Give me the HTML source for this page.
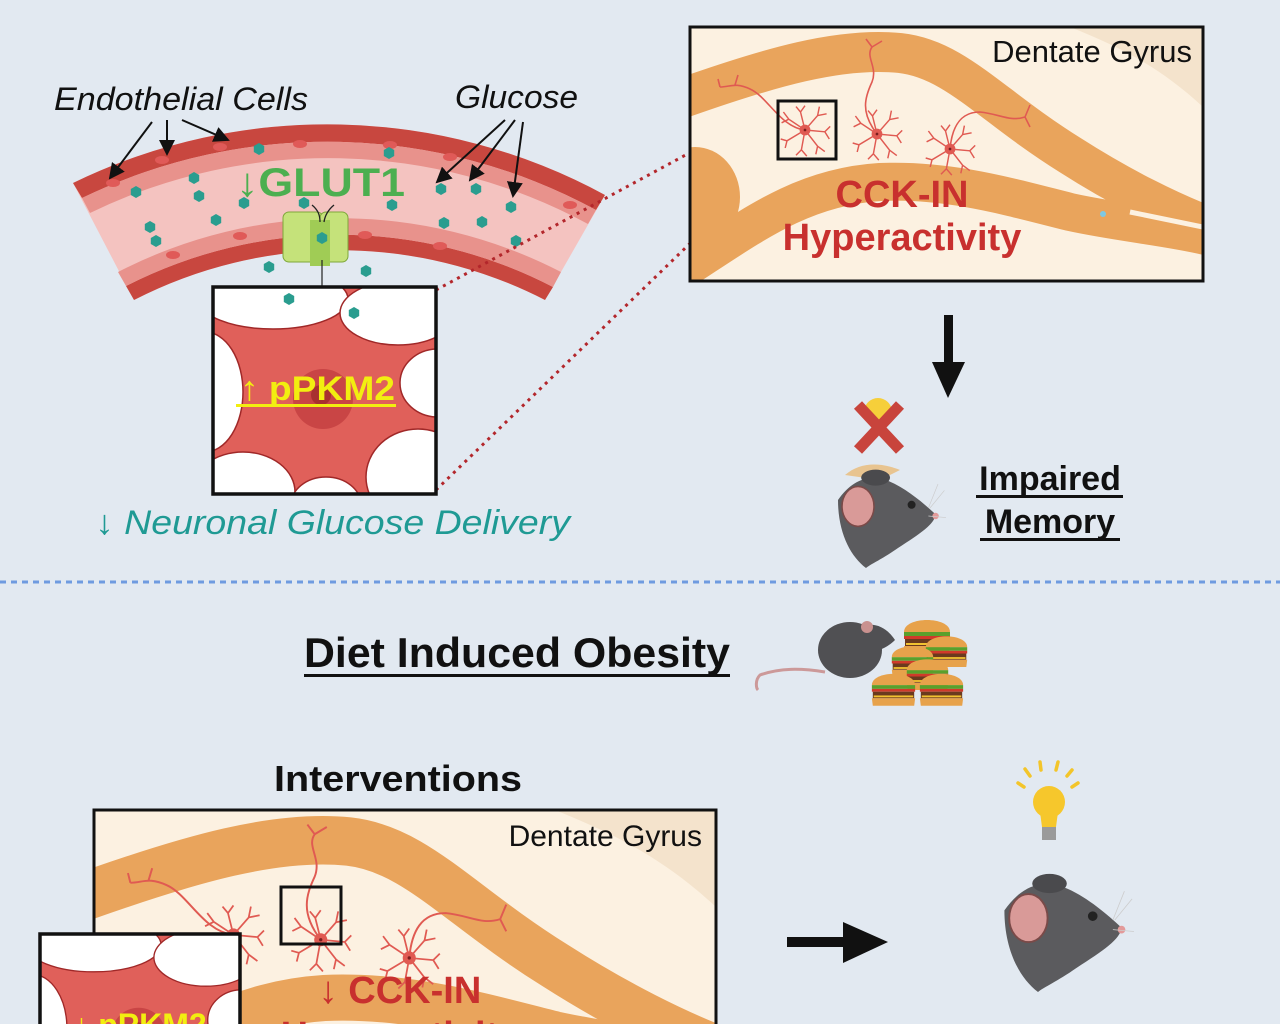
<!DOCTYPE html>
<html><head><meta charset="utf-8"><style>
html,body{margin:0;padding:0;background:#e2e9f1;width:1280px;height:1024px;overflow:hidden;}
svg{display:block}
text{font-family:"Liberation Sans",sans-serif}
</style></head><body>
<svg width="1280" height="1024" viewBox="0 0 1280 1024" xmlns="http://www.w3.org/2000/svg">
<defs>
<marker id="ah" markerWidth="8" markerHeight="8" refX="7" refY="4" orient="auto"><path d="M0,0 L8,4 L0,8 Z" fill="#111"/></marker>
<symbol id="hex" viewBox="-6 -6 12 12"><polygon points="0,-6 5.2,-3 5.2,3 0,6 -5.2,3 -5.2,-3" fill="#2a9d8f"/></symbol>
<symbol id="nr" viewBox="-30 -30 60 60" overflow="visible">
 <g stroke="#e05a52" stroke-width="1.6" fill="none">
 <path d="M0,0 L-18,-12 L-24,-20 M-18,-12 L-26,-8"/>
 <path d="M0,0 L-5,-20 L-10,-26 M-5,-20 L0,-27"/>
 <path d="M0,0 L14,-16 L16,-26 M14,-16 L24,-18"/>
 <path d="M0,0 L22,2 L28,-4 M22,2 L27,10"/>
 <path d="M0,0 L14,18 L12,27 M14,18 L22,24"/>
 <path d="M0,0 L-4,22 L-10,28 M-4,22 L2,29"/>
 <path d="M0,0 L-20,12 L-27,10 M-20,12 L-22,20"/>
 </g><circle r="6" fill="#e05a52"/><circle r="1.5" fill="#7a1e1e"/>
</symbol>
<symbol id="head" viewBox="0 0 130 125" overflow="visible">
 <path d="M5,40 C20,18 40,8 62,14 C86,22 110,42 127,58 C126,70 108,82 80,100 C60,114 46,120 40,125 C20,110 5,80 5,40Z" fill="#5b5b5e"/>
 <ellipse cx="52" cy="12" rx="18" ry="10" fill="#4a4a4d"/>
 <ellipse cx="30" cy="48" rx="20" ry="25" fill="#d99a98" stroke="#7a4a48" stroke-width="2"/>
 <circle cx="97" cy="46" r="5" fill="#222"/>
 <circle cx="127" cy="60" r="4" fill="#e39a9a"/>
 <g stroke="#ccc" stroke-width="0.8"><path d="M118,50 L130,20 M120,50 L138,28 M118,60 L140,62"/></g>
</symbol>
<symbol id="burger" viewBox="0 0 50 44">
 <path d="M2,20 C2,4 48,4 48,20 Z" fill="#e7a24b"/>
 <rect x="2" y="20" width="46" height="4" fill="#5aa02c"/>
 <rect x="2" y="24" width="46" height="3" fill="#d03a2a"/>
 <rect x="3" y="27" width="44" height="7" fill="#6b3a1e"/>
 <rect x="4" y="31" width="42" height="2" fill="#f2c230"/>
 <path d="M2,34 L48,34 L47,42 L3,42 Z" fill="#e7a24b"/>
</symbol>
<symbol id="dg" viewBox="0 0 513 254">
 <rect width="513" height="254" fill="#fcf1e1"/>
 <path d="M380,0 L513,0 L513,80 C470,40 430,20 380,0Z" fill="#f4e3cc"/>
 <path d="M-10,72 C80,40 150,20 210,26 C265,32 300,78 380,128 C430,160 480,185 520,200" stroke="#e9a45c" stroke-width="40" fill="none"/>
 <path d="M-10,245 C60,200 110,160 190,155 C260,152 320,170 380,185 C430,196 480,200 520,210" stroke="#e9a45c" stroke-width="38" fill="none"/>
 <ellipse cx="5" cy="170" rx="45" ry="50" fill="#e9a45c"/>
 <path d="M440,185 L513,200" stroke="#fcf1e1" stroke-width="5"/>
 <g stroke="#e05a52" stroke-width="1.6" fill="none">
  <path d="M115,103 C90,100 78,70 60,62 C45,55 40,60 30,60 M45,58 L48,48 M30,60 L28,52"/>
  <path d="M187,107 C170,85 175,70 182,55 C188,40 175,30 182,20 M182,20 L176,12 M182,20 L192,14"/>
  <path d="M260,122 C262,100 270,85 290,85 C310,87 320,95 335,90 M335,90 L340,78 M335,90 L340,100"/>
 </g>
 <use href="#nr" x="88" y="76" width="54" height="54"/>
 <use href="#nr" x="160" y="80" width="54" height="54"/>
 <use href="#nr" x="233" y="95" width="54" height="54"/>
 <circle cx="413" cy="187" r="3" fill="#7ec8e3"/>
</symbol>
<clipPath id="nb"><rect width="223" height="207"/></clipPath>
<symbol id="cell" viewBox="0 0 223 207">
 <g clip-path="url(#nb)">
 <rect width="223" height="207" fill="#e0605a"/>
 <g fill="#fff" stroke="#a02828" stroke-width="1.5">
 <ellipse cx="60" cy="12" rx="75" ry="30"/>
 <ellipse cx="185" cy="26" rx="58" ry="32"/>
 <ellipse cx="225" cy="96" rx="38" ry="34"/>
 <ellipse cx="-8" cy="105" rx="38" ry="60"/>
 <ellipse cx="30" cy="205" rx="52" ry="40"/>
 <ellipse cx="205" cy="190" rx="52" ry="48"/>
 <ellipse cx="113" cy="218" rx="35" ry="28"/>
 </g>
 <circle cx="110" cy="112" r="30" fill="#c94545"/>
 <circle cx="108" cy="108" r="10" fill="#a83030"/>
 </g>
</symbol>
</defs>

<!-- Vessel -->
<path d="M73,183 A581,581 0 0 1 605,195 L545,300 A449,449 0 0 0 134,300 Z" fill="#f4c3c0"/>
<path d="M73,183 A581,581 0 0 1 605,195 L596,210 A563,563 0 0 0 82,198 Z" fill="#c8473f"/>
<path d="M82,198 A563,563 0 0 1 596,210 L588,224 A545,545 0 0 0 90,213 Z" fill="#e8928c"/>
<path d="M134,300 A449,449 0 0 1 545,300 L553,287 A466,466 0 0 0 126,286 Z" fill="#c8473f"/>
<path d="M126,286 A466,466 0 0 1 553,287 L561,272 A483,483 0 0 0 118,272 Z" fill="#e8928c"/>
<g fill="#e05a58">
<ellipse cx="113" cy="183" rx="7" ry="4"/><ellipse cx="162" cy="160" rx="7" ry="4"/><ellipse cx="220" cy="147" rx="7" ry="4"/>
<ellipse cx="300" cy="144" rx="7" ry="4"/><ellipse cx="390" cy="145" rx="7" ry="4"/><ellipse cx="450" cy="157" rx="7" ry="4"/><ellipse cx="570" cy="205" rx="7" ry="4"/>
<ellipse cx="173" cy="255" rx="7" ry="4"/><ellipse cx="240" cy="236" rx="7" ry="4"/><ellipse cx="365" cy="235" rx="7" ry="4"/><ellipse cx="440" cy="246" rx="7" ry="4"/>
</g>
<!-- glucose -->
<g>
<use href="#hex" x="130" y="186" width="12" height="12"/><use href="#hex" x="188" y="172" width="12" height="12"/><use href="#hex" x="144" y="221" width="12" height="12"/>
<use href="#hex" x="210" y="214" width="12" height="12"/><use href="#hex" x="193" y="190" width="12" height="12"/><use href="#hex" x="150" y="235" width="12" height="12"/>
<use href="#hex" x="253" y="143" width="12" height="12"/><use href="#hex" x="383" y="147" width="12" height="12"/><use href="#hex" x="238" y="197" width="12" height="12"/>
<use href="#hex" x="298" y="197" width="12" height="12"/><use href="#hex" x="386" y="199" width="12" height="12"/>
<use href="#hex" x="435" y="183" width="12" height="12"/><use href="#hex" x="470" y="183" width="12" height="12"/><use href="#hex" x="476" y="216" width="12" height="12"/>
<use href="#hex" x="438" y="217" width="12" height="12"/><use href="#hex" x="505" y="201" width="12" height="12"/><use href="#hex" x="510" y="235" width="12" height="12"/>
<use href="#hex" x="263" y="261" width="12" height="12"/><use href="#hex" x="360" y="265" width="12" height="12"/>
</g>
<!-- GLUT1 channel -->
<rect x="283" y="212" width="40" height="50" rx="6" fill="#c5e27a" stroke="#7ea83a"/>
<rect x="320" y="212" width="28" height="50" rx="6" fill="#c5e27a" stroke="#7ea83a"/>
<rect x="310" y="220" width="20" height="46" fill="#a0cc55"/>
<use href="#hex" x="316" y="232" width="12" height="12"/>
<path d="M322,260 L322,318" stroke="#222" stroke-width="1.2" marker-end="url(#ah)"/>
<path d="M312,205 C318,210 320,215 320,222 M334,205 C328,210 325,215 324,222" stroke="#222" stroke-width="1.3" fill="none"/>
<text x="236" y="196" font-size="40" font-weight="bold" fill="#4caf50" textLength="169" lengthAdjust="spacingAndGlyphs">↓GLUT1</text>

<!-- labels -->
<text x="54" y="110" font-size="32" font-style="italic" fill="#111" textLength="254" lengthAdjust="spacingAndGlyphs">Endothelial Cells</text>
<text x="455" y="108" font-size="32" font-style="italic" fill="#111" textLength="123" lengthAdjust="spacingAndGlyphs">Glucose</text>
<g stroke="#111" stroke-width="2" fill="none" marker-end="url(#ah)">
<path d="M152,122 L110,178"/><path d="M167,120 L167,154"/><path d="M182,120 L228,140"/>
<path d="M505,120 L437,182"/><path d="M515,120 L470,180"/><path d="M523,122 L513,196"/>
</g>

<!-- dotted connector -->
<g stroke="#b3262b" stroke-width="3" stroke-dasharray="3,5" fill="none">
<path d="M436,290 L778,105"/><path d="M436,490 L778,158"/>
<path d="M240,1000 L283,915"/><path d="M240,1024 L283,945"/>
</g>

<!-- neuron box top -->
<use href="#cell" x="213" y="287" width="223" height="207"/>
<rect x="213" y="287" width="223" height="207" fill="none" stroke="#111" stroke-width="3.5"/>
<use href="#hex" x="283" y="293" width="12" height="12"/><use href="#hex" x="348" y="307" width="12" height="12"/>
<text x="240" y="400" font-size="34" font-weight="bold" fill="#f2ee10" textLength="155" lengthAdjust="spacingAndGlyphs">↑ pPKM2</text>
<rect x="236" y="404" width="160" height="3" fill="#f2ee10"/>
<text x="95" y="534" font-size="34" font-style="italic" fill="#1f9a94" textLength="475" lengthAdjust="spacingAndGlyphs">↓  Neuronal Glucose Delivery</text>

<!-- DG top -->
<use href="#dg" x="690" y="27" width="513" height="254"/>
<rect x="778" y="101" width="58" height="58" fill="none" stroke="#111" stroke-width="3"/>
<rect x="690" y="27" width="513" height="254" fill="none" stroke="#111" stroke-width="3"/>
<text x="1192" y="62" font-size="31" fill="#111" text-anchor="end">Dentate Gyrus</text>
<text x="902" y="207" font-size="38" font-weight="bold" fill="#c8302e" text-anchor="middle">CCK-IN</text>
<text x="902" y="250" font-size="38" font-weight="bold" fill="#c8302e" text-anchor="middle">Hyperactivity</text>

<!-- arrow down -->
<rect x="944" y="315" width="9" height="50" fill="#111"/>
<polygon points="932,362 965,362 948,398" fill="#111"/>

<!-- impaired memory -->
<circle cx="878" cy="412" r="14" fill="#f6cf3a"/>
<path d="M858,405 L900,450 M900,405 L858,450" stroke="#c8443c" stroke-width="11"/>
<path d="M845,475 C860,462 880,462 900,470 L880,480 Z" fill="#e8c490"/>
<use href="#head" x="830" y="468" width="112" height="100"/>
<text x="1050" y="490" font-size="34" font-weight="bold" fill="#111" text-anchor="middle">Impaired</text>
<rect x="976" y="495" width="147" height="3" fill="#111"/>
<text x="1050" y="533" font-size="34" font-weight="bold" fill="#111" text-anchor="middle">Memory</text>
<rect x="980" y="538" width="140" height="3" fill="#111"/>

<!-- dotted divider -->
<path d="M0,582 L1280,582" stroke="#6f9be0" stroke-width="3" stroke-dasharray="6,5"/>

<!-- DIO -->
<text x="517" y="667" font-size="42" font-weight="bold" fill="#111" text-anchor="middle" textLength="426" lengthAdjust="spacingAndGlyphs">Diet Induced Obesity</text>
<rect x="304" y="674" width="426" height="3" fill="#111"/>
<path d="M825,672 C800,668 780,668 760,675 C755,680 756,688 758,690" stroke="#c99" stroke-width="3" fill="none"/>
<ellipse cx="850" cy="650" rx="32" ry="28" fill="#505053"/>
<path d="M855,630 C870,620 885,625 895,640 C885,650 870,655 860,650Z" fill="#505053"/>
<circle cx="867" cy="627" r="6" fill="#c9918f"/>
<use href="#burger" x="902" y="612" width="50" height="44"/>
<use href="#burger" x="924" y="628" width="45" height="42"/>
<use href="#burger" x="890" y="638" width="45" height="42"/>
<use href="#burger" x="905" y="652" width="45" height="40"/>
<use href="#burger" x="870" y="666" width="47" height="42"/>
<use href="#burger" x="918" y="666" width="47" height="42"/>

<!-- Interventions -->
<text x="274" y="791" font-size="36" font-weight="bold" fill="#111" textLength="248" lengthAdjust="spacingAndGlyphs">Interventions</text>
<use href="#dg" x="94" y="810" width="622" height="308"/>
<rect x="281" y="887" width="60" height="57" fill="none" stroke="#111" stroke-width="3"/>
<rect x="94" y="810" width="622" height="230" fill="none" stroke="#111" stroke-width="3"/>
<text x="702" y="846" font-size="30" fill="#111" text-anchor="end">Dentate Gyrus</text>
<text x="400" y="1003" font-size="38" font-weight="bold" fill="#c8302e" text-anchor="middle">↓ CCK-IN</text>
<text x="400" y="1048" font-size="38" font-weight="bold" fill="#c8302e" text-anchor="middle">Hyperactivity</text>
<use href="#cell" x="40" y="934" width="200" height="186"/>
<rect x="40" y="934" width="200" height="110" fill="none" stroke="#111" stroke-width="3.5"/>
<text x="140" y="1036" font-size="32" font-weight="bold" fill="#f2ee10" text-anchor="middle">↓ pPKM2</text>

<!-- right arrow -->
<rect x="787" y="937" width="60" height="10" fill="#111"/>
<polygon points="843,922 843,963 888,942" fill="#111"/>

<!-- lightbulb -->
<g stroke="#f3c52a" stroke-width="3.5" stroke-linecap="round">
<path d="M1018,783 L1024,787 M1025,769 L1030,776 M1040,762 L1041,770 M1058,762 L1056,770 M1072,770 L1067,776 M1078,783 L1072,787"/>
</g>
<circle cx="1049" cy="802" r="16" fill="#f6c72c"/>
<path d="M1040,812 L1058,812 L1056,827 L1042,827Z" fill="#f6c72c"/>
<rect x="1042" y="827" width="14" height="13" fill="#9a9a9a"/>
<use href="#head" x="998" y="872" width="128" height="120"/>
</svg>
</body></html>
